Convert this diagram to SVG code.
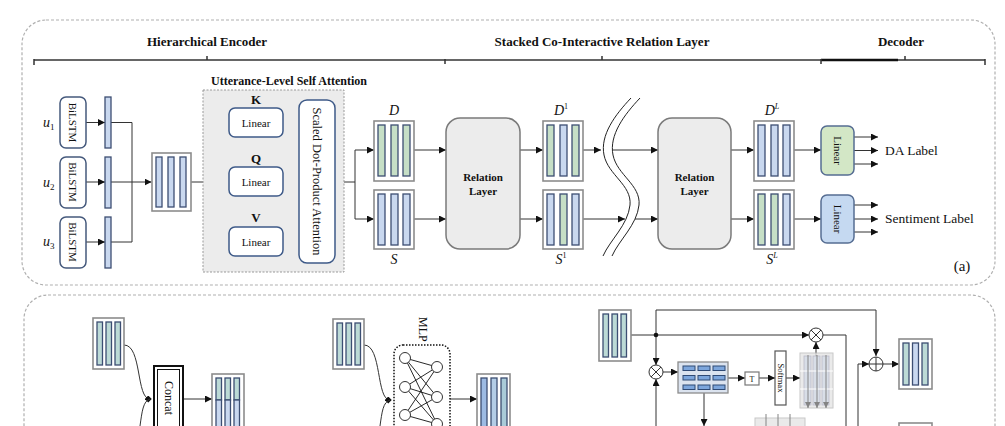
<svg xmlns="http://www.w3.org/2000/svg" width="1005" height="426" viewBox="0 0 1005 426">
<defs>
<marker id="arr" viewBox="0 0 8 8" refX="8" refY="4" markerWidth="7" markerHeight="7" markerUnits="userSpaceOnUse" orient="auto"><path d="M0,0 L8,4 L0,8 z" fill="#111"/></marker>
<marker id="arrg" viewBox="0 0 8 8" refX="8" refY="4" markerWidth="6" markerHeight="6" markerUnits="userSpaceOnUse" orient="auto"><path d="M0,0 L8,4 L0,8 z" fill="#666"/></marker>
<marker id="dot" viewBox="0 0 8 8" refX="6" refY="4" markerWidth="7" markerHeight="7" markerUnits="userSpaceOnUse" orient="auto"><path d="M0,4 L4,0 L8,4 L4,8 z" fill="#111"/></marker>
<style>
text{font-family:"Liberation Serif","Times New Roman",serif;fill:#111}
.hd{font-size:13px;font-weight:bold;text-anchor:middle}
.panel{fill:none;stroke:#b0b0b0;stroke-width:1.2;stroke-dasharray:3,2}
.ln{fill:none;stroke:#333;stroke-width:1}
.la{fill:none;stroke:#333;stroke-width:1;marker-end:url(#arr)}
.mat{fill:#fff;stroke:#8c8c8c;stroke-width:1.6}
.bb{fill:#c9d8ef;stroke:#3c4e72;stroke-width:1.3}
.gb{fill:#c6dfc6;stroke:#3c4e72;stroke-width:1.3}
.tb{fill:#bcdad6;stroke:#3c4e72;stroke-width:1.3}
.lstm{fill:#fff;stroke:#45597c;stroke-width:1.5}
.lin{fill:#fff;stroke:#3e5a88;stroke-width:1.5}
.rl{fill:#ececec;stroke:#7a7a7a;stroke-width:1.5}
.rt{font-size:11px;font-weight:bold;text-anchor:middle}
.sm{font-size:11px;text-anchor:middle;dominant-baseline:central}
.it{font-style:italic;font-size:14px;text-anchor:middle}
.circ{fill:#fff;stroke:#333;stroke-width:1}
.cell{fill:#7da6dc;stroke:#2f4a75;stroke-width:1}
</style>
</defs>

<!-- panels -->
<rect class="panel" x="22" y="20" width="973" height="265" rx="24"/>
<rect class="panel" x="24" y="295" width="971" height="200" rx="24"/>

<!-- header bracket -->
<g id="bracket">
<line x1="34" y1="60" x2="985" y2="60" stroke="#333" stroke-width="1.5"/>
<line x1="821" y1="60" x2="898" y2="60" stroke="#111" stroke-width="2.6"/>
<path d="M34,59 V65 M207,56 V60 M445,59 V64 M602,56 V60 M821,59 V64 M905,56 V60 M985,59 V65" stroke="#333" stroke-width="1.5" fill="none"/>
<text class="hd" x="207" y="46">Hierarchical Encoder</text>
<text class="hd" x="602" y="46">Stacked Co-Interactive Relation Layer</text>
<text class="hd" x="901" y="46">Decoder</text>
</g>

<!-- connectors -->
<g id="connectors">
<line class="la" x1="86" y1="122.5" x2="105" y2="122.5"/>
<line class="la" x1="86" y1="182" x2="105" y2="182"/>
<line class="la" x1="86" y1="242" x2="105" y2="242"/>
<path class="ln" d="M111,122.5 H132 V242 H111"/>
<line class="la" x1="111" y1="182" x2="151.5" y2="182"/>
<line class="ln" x1="191" y1="182" x2="210" y2="182"/>
<path class="ln" d="M229,122.5 H210 V241.5 H229"/>
<line class="la" x1="210" y1="122.5" x2="229" y2="122.5"/>
<line class="la" x1="210" y1="182" x2="229" y2="182"/>
<line class="la" x1="210" y1="241.5" x2="229" y2="241.5"/>
<line class="la" x1="283" y1="122.5" x2="299" y2="122.5"/>
<line class="la" x1="283" y1="182" x2="299" y2="182"/>
<line class="la" x1="283" y1="241.5" x2="299" y2="241.5"/>
<path class="ln" d="M335,182 H355 M355,150 V219"/>
<line class="la" x1="355" y1="150" x2="374" y2="150"/>
<line class="la" x1="355" y1="219" x2="374" y2="219"/>
<line class="la" x1="414" y1="150" x2="446" y2="150"/>
<line class="la" x1="414" y1="219" x2="446" y2="219"/>
<line class="la" x1="520" y1="150" x2="543" y2="150"/>
<line class="la" x1="520" y1="219" x2="543" y2="219"/>
<line class="la" x1="583" y1="150" x2="601" y2="150"/>
<line class="la" x1="583" y1="219" x2="625" y2="219"/>
<line class="la" x1="613" y1="150" x2="658" y2="150"/>
<line class="la" x1="635" y1="219" x2="658" y2="219"/>
<line class="la" x1="731" y1="150" x2="754" y2="150"/>
<line class="la" x1="731" y1="219" x2="754" y2="219"/>
<line class="la" x1="794" y1="150" x2="821" y2="150"/>
<line class="la" x1="794" y1="219" x2="821" y2="219"/>
<line class="la" x1="854" y1="137" x2="878" y2="137"/>
<line class="la" x1="854" y1="150.5" x2="878" y2="150.5"/>
<line class="la" x1="854" y1="164" x2="878" y2="164"/>
<line class="la" x1="854" y1="205" x2="878" y2="205"/>
<line class="la" x1="854" y1="219" x2="878" y2="219"/>
<line class="la" x1="854" y1="232" x2="878" y2="232"/>
<path class="ln" d="M124,345 C142,345 136,399 150,399" marker-end="url(#dot)"/>
<path class="ln" d="M140,426 C142,412 143,401 150,399"/>
<line class="la" x1="183" y1="399" x2="212" y2="399"/>
<path class="ln" d="M364,345 C382,345 376,400 390,400" marker-end="url(#dot)"/>
<path class="ln" d="M380,426 C382,412 383,402 390,400"/>
<line class="la" x1="450" y1="399" x2="477" y2="399"/>
<path class="ln" d="M631,335 H656 M656,310 H876"/>
<line class="la" x1="656" y1="310" x2="656" y2="365"/>
<line class="la" x1="656" y1="426" x2="656" y2="379"/>
<line class="la" x1="656" y1="335" x2="809" y2="335"/>
<path class="ln" d="M823,335 H846 V426"/>
<line class="la" x1="876" y1="310" x2="876" y2="356"/>
<path class="ln" d="M858,426 V364"/>
<line class="la" x1="858" y1="364" x2="869" y2="364"/>
<line class="la" x1="883" y1="364" x2="899" y2="364"/>
<line class="la" x1="663" y1="372" x2="678" y2="372"/>
<line class="la" x1="728" y1="378" x2="745" y2="378"/>
<line class="la" x1="759" y1="378" x2="775" y2="378"/>
<line class="la" x1="786" y1="378" x2="800" y2="378"/>
<line class="la" x1="704" y1="393" x2="704" y2="426"/>
<line class="la" x1="816" y1="356" x2="816" y2="342"/>
</g>

<!-- encoder -->
<g id="bilstm1"><rect class="lstm" x="60" y="97" width="26" height="51" rx="6"/><text class="sm" transform="translate(73,122.5) rotate(90)">BiLSTM</text></g>
<g id="bilstm2"><rect class="lstm" x="60" y="157" width="26" height="51" rx="6"/><text class="sm" transform="translate(73,182) rotate(90)">BiLSTM</text></g>
<g id="bilstm3"><rect class="lstm" x="60" y="217" width="26" height="51" rx="6"/><text class="sm" transform="translate(73,242) rotate(90)">BiLSTM</text></g>
<g id="ulabels">
<text x="43" y="127" font-size="14" font-style="italic">u<tspan font-size="9" font-style="normal" dy="3">1</tspan></text>
<text x="43" y="187" font-size="14" font-style="italic">u<tspan font-size="9" font-style="normal" dy="3">2</tspan></text>
<text x="43" y="246" font-size="14" font-style="italic">u<tspan font-size="9" font-style="normal" dy="3">3</tspan></text>
</g>
<g id="hbars">
<rect class="bb" x="105" y="97" width="6" height="51"/>
<rect class="bb" x="105" y="157" width="6" height="51"/>
<rect class="bb" x="105" y="217" width="6" height="51"/>
</g>
<g id="hmat"><rect class="mat" x="152" y="153" width="39" height="58"/>
<rect class="bb" x="156" y="157" width="6" height="50"/><rect class="bb" x="168" y="157" width="6" height="50"/><rect class="bb" x="180" y="157" width="6" height="50"/></g>

<!-- self attention -->
<g id="selfatt">
<text x="289" y="85" font-size="12" font-weight="bold" text-anchor="middle">Utterance-Level Self Attention</text>
<rect x="203" y="90" width="141" height="182" fill="#ececec" stroke="#999" stroke-width="1" stroke-dasharray="2,1.5"/>
</g>
<g id="linK"><text x="256" y="104" font-size="13" font-weight="bold" text-anchor="middle">K</text><rect class="lin" x="229" y="108" width="54" height="29" rx="6"/><text class="sm" x="256" y="122.5">Linear</text></g>
<g id="linQ"><text x="256" y="163" font-size="13" font-weight="bold" text-anchor="middle">Q</text><rect class="lin" x="229" y="167" width="54" height="29" rx="6"/><text class="sm" x="256" y="182">Linear</text></g>
<g id="linV"><text x="256" y="222" font-size="13" font-weight="bold" text-anchor="middle">V</text><rect class="lin" x="229" y="227" width="54" height="29" rx="6"/><text class="sm" x="256" y="241.5">Linear</text></g>
<g id="sdpa"><rect class="lin" x="299" y="100" width="36" height="163" rx="8"/><text font-size="12.5" text-anchor="middle" dominant-baseline="central" transform="translate(317,181.5) rotate(90)">Scaled Dot-Product Attention</text></g>

<!-- D / S -->
<g id="matD"><text class="it" x="394" y="115">D</text><rect class="mat" x="374" y="121" width="40" height="60"/>
<rect class="gb" x="378" y="125" width="7" height="51"/><rect class="gb" x="391" y="125" width="7" height="51"/><rect class="gb" x="403" y="125" width="7" height="51"/></g>
<g id="matS"><rect class="mat" x="374" y="190" width="40" height="59"/>
<rect class="bb" x="378" y="194" width="7" height="51"/><rect class="bb" x="391" y="194" width="7" height="51"/><rect class="bb" x="403" y="194" width="7" height="51"/><text class="it" x="394" y="264">S</text></g>
<g id="rel1"><rect class="rl" x="446" y="118" width="74" height="131" rx="14"/><text class="rt" x="483" y="181">Relation</text><text class="rt" x="483" y="195">Layer</text></g>
<g id="matD1"><text class="it" x="561" y="115">D<tspan font-size="8" font-style="normal" dy="-6">1</tspan></text><rect class="mat" x="543" y="121" width="40" height="60"/>
<rect class="gb" x="547" y="125" width="7" height="51"/><rect class="bb" x="560" y="125" width="7" height="51"/><rect class="gb" x="572" y="125" width="7" height="51"/></g>
<g id="matS1"><rect class="mat" x="543" y="190" width="40" height="59"/>
<rect class="bb" x="547" y="194" width="7" height="51"/><rect class="gb" x="560" y="194" width="7" height="51"/><rect class="bb" x="572" y="194" width="7" height="51"/><text class="it" x="561" y="264">S<tspan font-size="8" font-style="normal" dy="-6">1</tspan></text></g>
<g id="wave">
<path d="M631,98 C615,115 600,135 604,155 C608,175 632,185 630,205 C628,225 610,240 603,256" fill="none" stroke="#222" stroke-width="1"/>
<path d="M640,98 C624,115 609,135 613,155 C617,175 641,185 639,205 C637,225 619,240 612,256" fill="none" stroke="#222" stroke-width="1"/>
</g>
<g id="rel2"><rect class="rl" x="658" y="118" width="73" height="131" rx="14"/><text class="rt" x="694.5" y="181">Relation</text><text class="rt" x="694.5" y="195">Layer</text></g>
<g id="matDL"><text class="it" x="772" y="115">D<tspan font-size="8" font-style="italic" dy="-6">L</tspan></text><rect class="mat" x="754" y="121" width="40" height="60"/>
<rect class="bb" x="758" y="125" width="7" height="51"/><rect class="bb" x="771" y="125" width="7" height="51"/><rect class="bb" x="783" y="125" width="7" height="51"/></g>
<g id="matSL"><rect class="mat" x="754" y="190" width="40" height="59"/>
<rect class="gb" x="758" y="194" width="7" height="51"/><rect class="gb" x="771" y="194" width="7" height="51"/><rect class="bb" x="783" y="194" width="7" height="51"/><text class="it" x="772" y="264">S<tspan font-size="8" font-style="italic" dy="-6">L</tspan></text></g>
<g id="dec1"><rect x="821" y="126" width="33" height="49" rx="6" fill="#d3e7c6" stroke="#566d92" stroke-width="1.5"/><text class="sm" transform="translate(837.5,150.5) rotate(90)">Linear</text><text x="885" y="155" font-size="13.5">DA Label</text></g>
<g id="dec2"><rect x="821" y="195" width="33" height="48" rx="6" fill="#c5d9f1" stroke="#566d92" stroke-width="1.5"/><text class="sm" transform="translate(837.5,219) rotate(90)">Linear</text><text x="885" y="223" font-size="13.5">Sentiment Label</text></g>
<text x="962" y="271" font-size="15" text-anchor="middle">(a)</text>

<!-- bottom: concat -->
<g id="bmat1"><rect class="mat" x="93" y="318" width="31" height="51"/>
<rect class="tb" x="97" y="322" width="5.5" height="43"/><rect class="tb" x="106" y="322" width="5.5" height="43"/><rect class="tb" x="115" y="322" width="5.5" height="43"/></g>
<g id="concat"><rect x="154" y="366" width="29" height="80" fill="#fff" stroke="#111" stroke-width="2"/><rect x="157.5" y="369.5" width="22" height="80" fill="none" stroke="#111" stroke-width="1"/><text font-size="12" dominant-baseline="central" transform="translate(168.5,381) rotate(90)">Concat</text></g>
<g id="bmat2"><rect class="mat" x="212" y="374" width="32" height="60"/>
<rect class="tb" x="216" y="378" width="5.5" height="22"/><rect class="tb" x="225" y="378" width="5.5" height="22"/><rect class="tb" x="234" y="378" width="5.5" height="22"/>
<rect class="bb" x="216" y="400" width="5.5" height="30"/><rect class="bb" x="225" y="400" width="5.5" height="30"/><rect class="bb" x="234" y="400" width="5.5" height="30"/></g>

<!-- bottom: MLP -->
<g id="bmat3"><rect class="mat" x="333" y="319" width="31" height="50"/>
<rect class="tb" x="337" y="323" width="5.5" height="42"/><rect class="tb" x="346" y="323" width="5.5" height="42"/><rect class="tb" x="355" y="323" width="5.5" height="42"/></g>
<g id="mlp">
<text font-size="12" dominant-baseline="central" transform="translate(423,317) rotate(90)">MLP</text>
<rect x="394" y="345" width="56" height="110" rx="9" fill="none" stroke="#111" stroke-width="1.5" stroke-dasharray="1.5,1.5"/>
<path d="M405,358 L437,367 M405,358 L437,397 M405,358 L437,424 M405,387 L437,367 M405,387 L437,397 M405,387 L437,424 M405,415 L437,367 M405,415 L437,397 M405,415 L437,424" stroke="#111" stroke-width="0.9" fill="none"/>
<circle class="circ" cx="405" cy="358" r="5.5" stroke="#111" stroke-width="1.3"/><circle class="circ" cx="405" cy="387" r="5.5" stroke="#111" stroke-width="1.3"/><circle class="circ" cx="405" cy="415" r="5.5" stroke="#111" stroke-width="1.3"/>
<circle class="circ" cx="437" cy="367" r="5.5" stroke="#111" stroke-width="1.3"/><circle class="circ" cx="437" cy="397" r="5.5" stroke="#111" stroke-width="1.3"/><circle class="circ" cx="437" cy="424" r="5.5" stroke="#111" stroke-width="1.3"/>
</g>
<g id="bmat4"><rect class="mat" x="477" y="374" width="33" height="60"/>
<rect x="481" y="378" width="6" height="52" fill="#9dbbe3" stroke="#3c4e72" stroke-width="1.3"/><rect x="491" y="378" width="6" height="52" fill="#b3cde6" stroke="#3c4e72" stroke-width="1.3"/><rect x="501" y="378" width="6" height="52" fill="#a9cbd8" stroke="#3c4e72" stroke-width="1.3"/></g>

<!-- bottom: attention -->
<g id="bmat5"><rect class="mat" x="599" y="310" width="32" height="51"/>
<rect class="tb" x="603" y="314" width="5.5" height="43"/><rect class="tb" x="612" y="314" width="5.5" height="43"/><rect class="tb" x="621" y="314" width="5.5" height="43"/></g>
<circle cx="656" cy="335" r="2.3" fill="#111"/>
<g id="mul1"><circle class="circ" cx="656" cy="372" r="7"/><path d="M651,367 L661,377 M661,367 L651,377" stroke="#333" stroke-width="1"/></g>
<g id="grid"><rect x="678" y="362" width="50" height="31" fill="#dbe3ef" stroke="#8c8c8c" stroke-width="1.3"/>
<rect class="cell" x="683" y="366" width="12" height="4.5"/><rect class="cell" x="698" y="366" width="12" height="4.5"/><rect class="cell" x="713" y="366" width="12" height="4.5"/>
<rect class="cell" x="683" y="375.5" width="12" height="4.5"/><rect class="cell" x="698" y="375.5" width="12" height="4.5"/><rect class="cell" x="713" y="375.5" width="12" height="4.5"/>
<rect class="cell" x="683" y="385" width="12" height="4.5"/><rect class="cell" x="698" y="385" width="12" height="4.5"/><rect class="cell" x="713" y="385" width="12" height="4.5"/></g>
<g id="tbox"><rect x="745" y="372" width="14" height="13" fill="#fff" stroke="#777" stroke-width="1.2"/><text x="752" y="381.5" font-size="8" text-anchor="middle">T</text></g>
<g id="softmax"><rect x="775" y="351" width="11" height="54" fill="#fff" stroke="#555" stroke-width="1.2"/><text font-size="8.5" text-anchor="middle" dominant-baseline="central" transform="translate(780.5,378) rotate(90)">Softmax</text></g>
<g id="stack1" opacity="0.8"><rect x="800" y="353" width="33" height="55" fill="#e6e6e6" stroke="#bbb" stroke-width="1"/>
<rect x="804" y="356" width="7" height="49" fill="#cfd6e2" stroke="#aab" stroke-width="0.8"/><rect x="813" y="356" width="7" height="49" fill="#cfd6e2" stroke="#aab" stroke-width="0.8"/><rect x="822" y="356" width="7" height="49" fill="#cfd6e2" stroke="#aab" stroke-width="0.8"/>
<path d="M800,371 H833 M800,389 H833" stroke="#fff" stroke-width="1"/>
<line x1="808" y1="355" x2="808" y2="408" stroke="#666" stroke-width="1" marker-end="url(#arrg)"/>
<line x1="817" y1="355" x2="817" y2="408" stroke="#666" stroke-width="1" marker-end="url(#arrg)"/>
<line x1="826" y1="355" x2="826" y2="408" stroke="#666" stroke-width="1" marker-end="url(#arrg)"/></g>
<g id="mul2"><circle class="circ" cx="816" cy="335" r="7"/><path d="M811,330 L821,340 M821,330 L811,340" stroke="#333" stroke-width="1"/></g>
<g id="stack2" opacity="0.8"><rect x="755" y="418" width="50" height="20" fill="#e6e6e6" stroke="#bbb" stroke-width="1"/><path d="M766,414 V426 M778,414 V426 M790,414 V426" stroke="#666" stroke-width="1"/></g>
<g id="add"><circle class="circ" cx="876" cy="364" r="7"/><path d="M869,364 H883 M876,357 V371" stroke="#333" stroke-width="1"/></g>
<g id="bmat6"><rect class="mat" x="899" y="339" width="33" height="50"/>
<rect class="tb" x="903" y="343" width="6" height="42"/><rect class="bb" x="912.5" y="343" width="6" height="42"/><rect class="tb" x="922" y="343" width="6" height="42"/></g>
<g id="bmat7"><rect class="mat" x="899" y="423" width="33" height="20"/></g>
</svg>
